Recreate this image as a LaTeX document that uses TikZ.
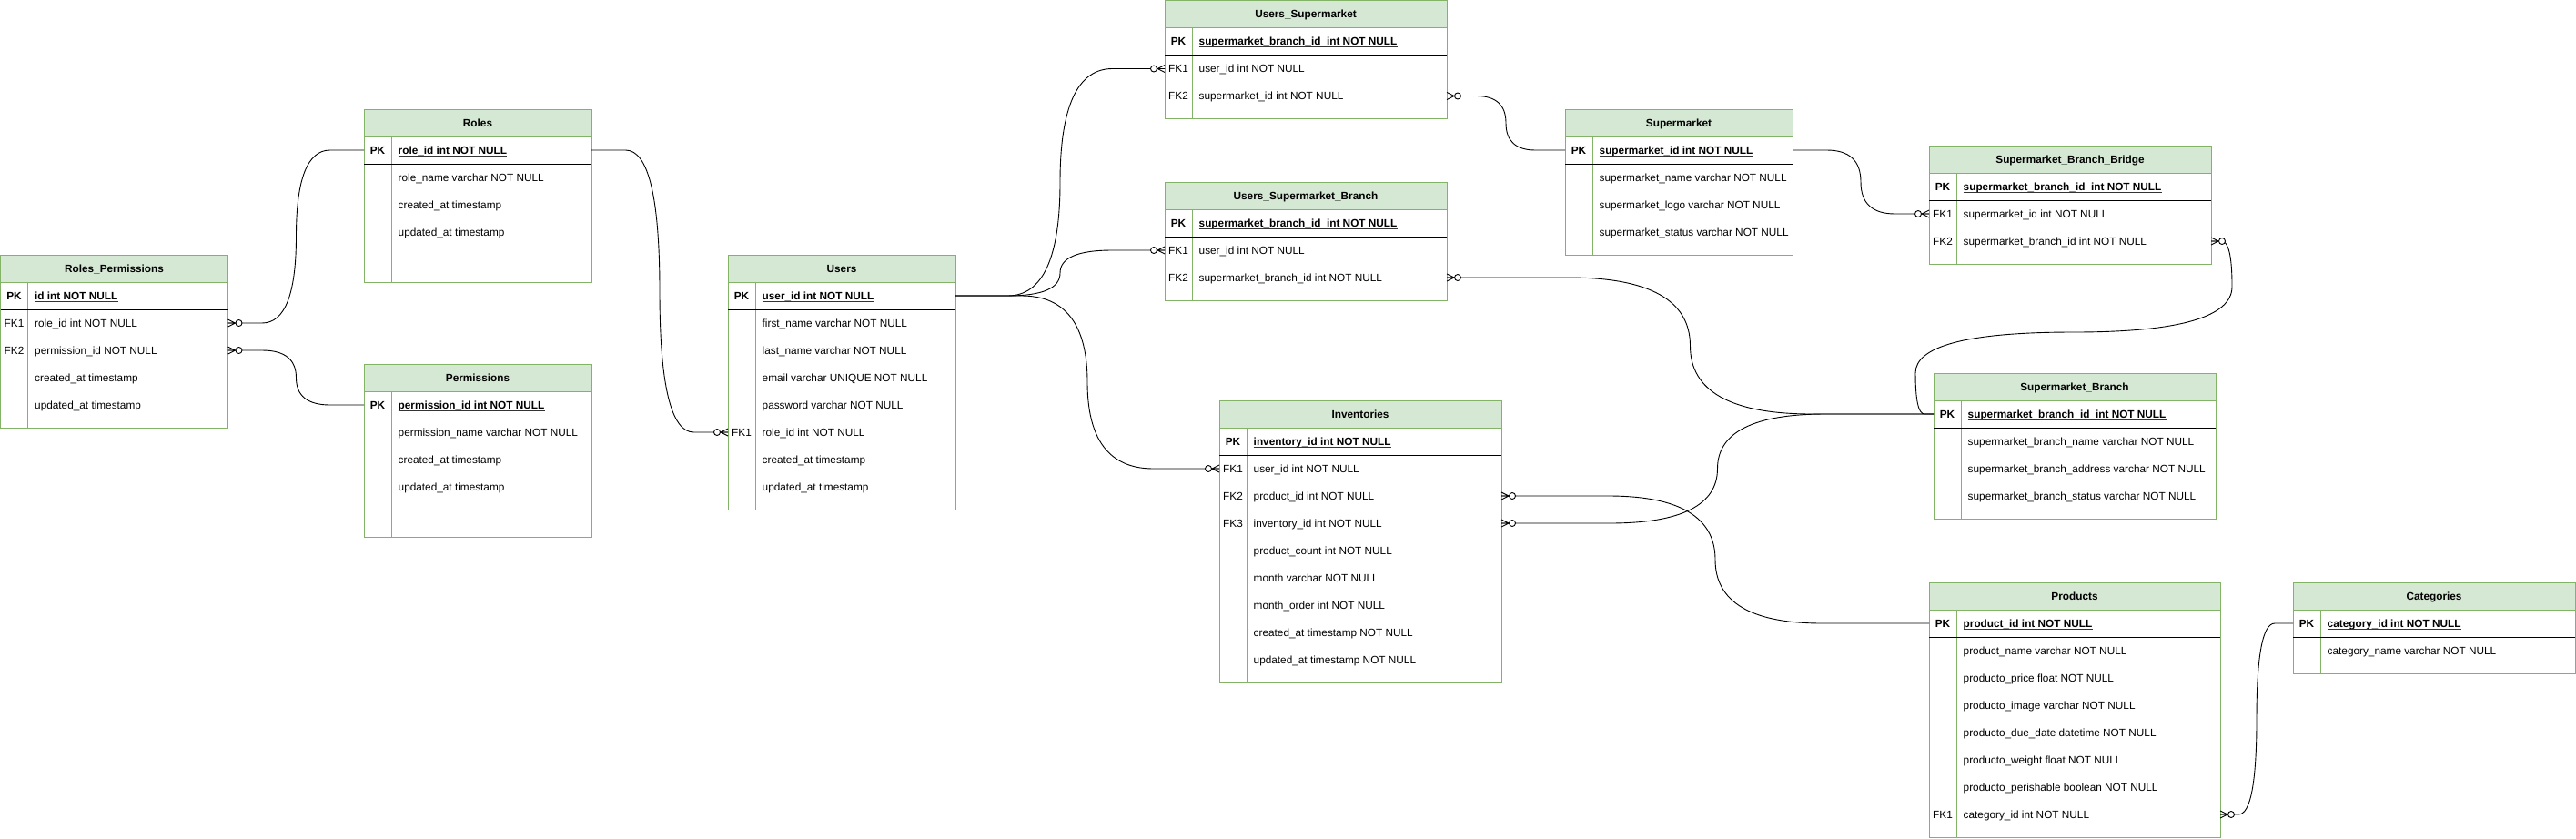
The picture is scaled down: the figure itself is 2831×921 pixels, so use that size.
\documentclass[tikz,border=0pt]{standalone}
\usepackage{fontspec}
\setmainfont{Liberation Sans}
\usetikzlibrary{calc}
\definecolor{ergreen}{HTML}{82B366}
\definecolor{erfill}{HTML}{D5E8D4}
\newcommand\erfont{\fontsize{11.8pt}{14pt}\selectfont}
\tikzset{
  tbody/.style={draw=ergreen, fill=white, line width=1pt, anchor=north west, inner sep=0pt, outer sep=0pt, rectangle},
  thead/.style={draw=ergreen, fill=erfill, line width=1pt, minimum height=30pt, anchor=north west, inner sep=0pt, outer sep=0pt, rectangle},
  rowbox/.style={minimum height=30pt, anchor=north west, inner sep=0pt, outer sep=0pt, rectangle},
  htxt/.style={anchor=base, inner sep=0pt, font=\erfont\bfseries},
  keytxt/.style={anchor=base, inner sep=0pt, font=\erfont},
  pktxt/.style={anchor=base, inner sep=0pt, font=\erfont\bfseries},
  fldtxt/.style={anchor=base west, inner sep=0pt, font=\erfont},
  pkfld/.style={anchor=base west, inner sep=0pt, font=\erfont\bfseries},
  divline/.style={draw=ergreen, line width=1pt},
  sepline/.style={draw=black, line width=1pt},
  ulline/.style={draw=black!80, line width=0.8pt},
  conn/.style={draw=black, line width=0.9pt},
  mk/.style={draw=black, line width=0.9pt},
  zmany/.pic={
    \draw[mk] (0,-4) -- (8,0) -- (0,4) (0,0) -- (8,0);
    \draw[mk, fill=white] (12,0) circle[radius=3.5pt];
  }
}
% name, x, y, w, h, title, pk text
\newcommand\ertable[7]{%
  \node[tbody, minimum width=#4pt, minimum height=#5pt] (#1) at (#2,#3) {};
  \node[thead, minimum width=#4pt] (#1-h) at (#2,#3) {};
  \node[htxt] (#1-ht) at ({#2+#4/2},{#3+19.2}) {#6};
  \draw[divline] ({#2+30},{#3+30}) -- ({#2+30},{#3+#5});
  \draw[sepline] (#2,{#3+60}) -- ({#2+#4},{#3+60});
  \node[rowbox, minimum width=#4pt] (#1-r0) at (#2,{#3+30}) {};
  \node[pktxt] (#1-k0) at ({#2+15},{#3+49.2}) {PK};
  \node[pkfld] (#1-t0) at ({#2+37.5},{#3+49.2}) {#7};
  \draw[ulline] ([yshift=-1.8pt]#1-t0.base west) -- ([yshift=-1.8pt]#1-t0.base east);
}
% name, x, y, w, idx, key, text
\newcommand\errow[7]{%
  \node[rowbox, minimum width=#4pt] (#1-r#5) at (#2,{#3+30+30*#5}) {};
  \node[keytxt] (#1-k#5) at ({#2+15},{#3+49.2+30*#5}) {#6};
  \node[fldtxt] (#1-t#5) at ({#2+37.5},{#3+49.2+30*#5}) {#7};
}
% from, to, xmid  (mxGraph-like curved orthogonal edge)
\newcommand\erlink[3]{%
  \coordinate (lm) at (#3,0);
  \coordinate (p1) at (#1 -| lm);
  \coordinate (p2) at (#2 -| lm);
  \coordinate (ma) at ($(#1)!0.5!(p1)$);
  \coordinate (mm) at ($(p1)!0.5!(p2)$);
  \coordinate (mb) at ($(p2)!0.5!(#2)$);
  \draw[conn] (#1) -- (ma) .. controls ($(ma)!2/3!(p1)$) and ($(mm)!2/3!(p1)$) .. (mm)
     .. controls ($(mm)!2/3!(p2)$) and ($(mb)!2/3!(p2)$) .. (mb) -- (#2);
}
\begin{document}
\begin{tikzpicture}[x=1pt,y=-1pt]
\useasboundingbox (0,0) rectangle (2831,921);

% Roles_Permissions
\ertable{rp}{0.5}{280}{250}{190}{Roles\_Permissions}{id int NOT NULL}
\errow{rp}{0.5}{280}{250}{1}{FK1}{role\_id int NOT NULL}
\errow{rp}{0.5}{280}{250}{2}{FK2}{permission\_id NOT NULL}
\errow{rp}{0.5}{280}{250}{3}{}{created\_at timestamp}
\errow{rp}{0.5}{280}{250}{4}{}{updated\_at timestamp}

% Roles
\ertable{roles}{400}{120}{250}{190}{Roles}{role\_id int NOT NULL}
\errow{roles}{400}{120}{250}{1}{}{role\_name varchar NOT NULL}
\errow{roles}{400}{120}{250}{2}{}{created\_at timestamp}
\errow{roles}{400}{120}{250}{3}{}{updated\_at timestamp}

% Permissions
\ertable{perms}{400}{400}{250}{190}{Permissions}{permission\_id int NOT NULL}
\errow{perms}{400}{400}{250}{1}{}{permission\_name varchar NOT NULL}
\errow{perms}{400}{400}{250}{2}{}{created\_at timestamp}
\errow{perms}{400}{400}{250}{3}{}{updated\_at timestamp}

% Users
\ertable{users}{800}{280}{250}{280}{Users}{user\_id int NOT NULL}
\errow{users}{800}{280}{250}{1}{}{first\_name varchar NOT NULL}
\errow{users}{800}{280}{250}{2}{}{last\_name varchar NOT NULL}
\errow{users}{800}{280}{250}{3}{}{email varchar UNIQUE NOT NULL}
\errow{users}{800}{280}{250}{4}{}{password varchar NOT NULL}
\errow{users}{800}{280}{250}{5}{FK1}{role\_id int NOT NULL}
\errow{users}{800}{280}{250}{6}{}{created\_at timestamp}
\errow{users}{800}{280}{250}{7}{}{updated\_at timestamp}

% Users_Supermarket
\ertable{us}{1280}{0.5}{310}{130}{Users\_Supermarket}{supermarket\_branch\_id\ \ int NOT NULL}
\errow{us}{1280}{0.5}{310}{1}{FK1}{user\_id int NOT NULL}
\errow{us}{1280}{0.5}{310}{2}{FK2}{supermarket\_id int NOT NULL}

% Users_Supermarket_Branch
\ertable{usb}{1280}{200}{310}{130}{Users\_Supermarket\_Branch}{supermarket\_branch\_id\ \ int NOT NULL}
\errow{usb}{1280}{200}{310}{1}{FK1}{user\_id int NOT NULL}
\errow{usb}{1280}{200}{310}{2}{FK2}{supermarket\_branch\_id int NOT NULL}

% Inventories
\ertable{inv}{1340}{440}{310}{310}{Inventories}{inventory\_id int NOT NULL}
\errow{inv}{1340}{440}{310}{1}{FK1}{user\_id int NOT NULL}
\errow{inv}{1340}{440}{310}{2}{FK2}{product\_id int NOT NULL}
\errow{inv}{1340}{440}{310}{3}{FK3}{inventory\_id int NOT NULL}
\errow{inv}{1340}{440}{310}{4}{}{product\_count int NOT NULL}
\errow{inv}{1340}{440}{310}{5}{}{month varchar NOT NULL}
\errow{inv}{1340}{440}{310}{6}{}{month\_order int NOT NULL}
\errow{inv}{1340}{440}{310}{7}{}{created\_at timestamp NOT NULL}
\errow{inv}{1340}{440}{310}{8}{}{updated\_at timestamp NOT NULL}

% Supermarket
\ertable{sm}{1720}{120}{250}{160}{Supermarket}{supermarket\_id int NOT NULL}
\errow{sm}{1720}{120}{250}{1}{}{supermarket\_name varchar NOT NULL}
\errow{sm}{1720}{120}{250}{2}{}{supermarket\_logo varchar NOT NULL}
\errow{sm}{1720}{120}{250}{3}{}{supermarket\_status varchar NOT NULL}

% Supermarket_Branch_Bridge
\ertable{sbb}{2120}{160}{310}{130}{Supermarket\_Branch\_Bridge}{supermarket\_branch\_id\ \ int NOT NULL}
\errow{sbb}{2120}{160}{310}{1}{FK1}{supermarket\_id int NOT NULL}
\errow{sbb}{2120}{160}{310}{2}{FK2}{supermarket\_branch\_id int NOT NULL}

% Supermarket_Branch
\ertable{sb}{2125}{410}{310}{160}{Supermarket\_Branch}{supermarket\_branch\_id\ \ int NOT NULL}
\errow{sb}{2125}{410}{310}{1}{}{supermarket\_branch\_name varchar NOT NULL}
\errow{sb}{2125}{410}{310}{2}{}{supermarket\_branch\_address varchar NOT NULL}
\errow{sb}{2125}{410}{310}{3}{}{supermarket\_branch\_status varchar NOT NULL}

% Products
\ertable{prod}{2120}{640}{320}{280}{Products}{product\_id int NOT NULL}
\errow{prod}{2120}{640}{320}{1}{}{product\_name varchar NOT NULL}
\errow{prod}{2120}{640}{320}{2}{}{producto\_price float NOT NULL}
\errow{prod}{2120}{640}{320}{3}{}{producto\_image varchar NOT NULL}
\errow{prod}{2120}{640}{320}{4}{}{producto\_due\_date datetime NOT NULL}
\errow{prod}{2120}{640}{320}{5}{}{producto\_weight float NOT NULL}
\errow{prod}{2120}{640}{320}{6}{}{producto\_perishable boolean NOT NULL}
\errow{prod}{2120}{640}{320}{7}{FK1}{category\_id int NOT NULL}

% Categories
\ertable{cat}{2520}{640}{310}{100}{Categories}{category\_id int NOT NULL}
\errow{cat}{2520}{640}{310}{1}{}{category\_name varchar NOT NULL}

% ---- connectors ----
\erlink{rp-r1.east}{roles-r0.west}{325.5}
\erlink{rp-r2.east}{perms-r0.west}{325.5}
\erlink{users-r5.west}{roles-r0.east}{725}
\erlink{us-r1.west}{users-r0.east}{1165}
\erlink{usb-r1.west}{users-r0.east}{1165}
\erlink{inv-r1.west}{users-r0.east}{1195}
\erlink{us-r2.east}{sm-r0.west}{1655}
\erlink{sbb-r1.west}{sm-r0.east}{2045}
\erlink{usb-r2.east}{sb-r0.west}{1857.5}
\erlink{inv-r3.east}{sb-r0.west}{1887.5}
\erlink{inv-r2.east}{prod-r0.west}{1885}
\erlink{prod-r7.east}{cat-r0.west}{2480}

% Supermarket_Branch -> Bridge FK2 (loop round)
\coordinate (c9r) at (2453,0);
\coordinate (c9l) at (2105,0);
\coordinate (c9y) at (0,365);
\coordinate (c9p1) at (sbb-r2.east -| c9r);
\coordinate (c9p2) at (c9r |- c9y);
\coordinate (c9p3) at (c9l |- c9y);
\coordinate (c9p4) at (sb-r0.west -| c9l);
\coordinate (c9m0) at ($(sbb-r2.east)!0.5!(c9p1)$);
\coordinate (c9m1) at ($(c9p1)!0.5!(c9p2)$);
\coordinate (c9m2) at ($(c9p2)!0.5!(c9p3)$);
\coordinate (c9m3) at ($(c9p3)!0.5!(c9p4)$);
\coordinate (c9m4) at ($(c9p4)!0.5!(sb-r0.west)$);
\draw[conn] (sbb-r2.east) -- (c9m0)
  .. controls ($(c9m0)!2/3!(c9p1)$) and ($(c9m1)!2/3!(c9p1)$) .. (c9m1)
  .. controls ($(c9m1)!2/3!(c9p2)$) and ($(c9m2)!2/3!(c9p2)$) .. (c9m2)
  .. controls ($(c9m2)!2/3!(c9p3)$) and ($(c9m3)!2/3!(c9p3)$) .. (c9m3)
  .. controls ($(c9m3)!2/3!(c9p4)$) and ($(c9m4)!2/3!(c9p4)$) .. (c9m4)
  -- (sb-r0.west);

% ---- zero-to-many markers ----
\pic at (rp-r1.east) {zmany};
\pic at (rp-r2.east) {zmany};
\pic[rotate=180] at (users-r5.west) {zmany};
\pic[rotate=180] at (us-r1.west) {zmany};
\pic[rotate=180] at (usb-r1.west) {zmany};
\pic[rotate=180] at (inv-r1.west) {zmany};
\pic at (us-r2.east) {zmany};
\pic[rotate=180] at (sbb-r1.west) {zmany};
\pic at (usb-r2.east) {zmany};
\pic at (inv-r3.east) {zmany};
\pic at (inv-r2.east) {zmany};
\pic at (prod-r7.east) {zmany};
\pic at (sbb-r2.east) {zmany};
\end{tikzpicture}
\end{document}
